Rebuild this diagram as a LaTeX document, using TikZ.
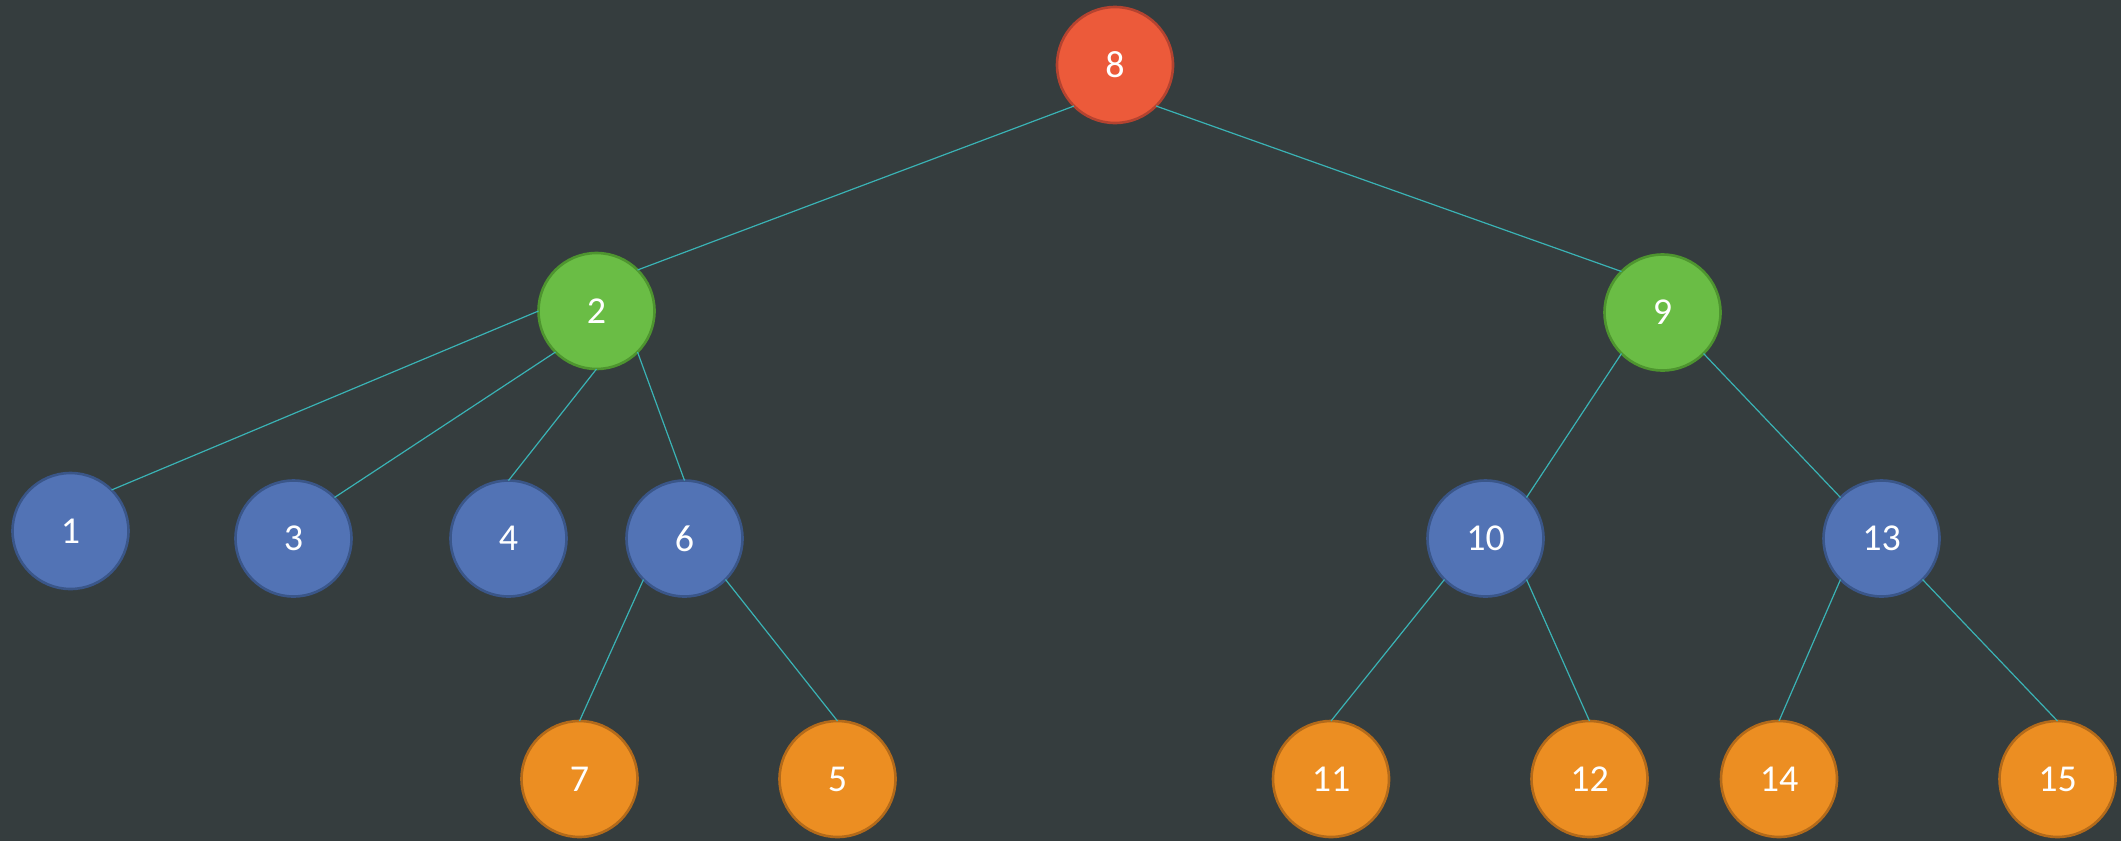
\documentclass[tikz,border=0pt]{standalone}
\usepackage{fontspec}
\setmainfont{Carlito}
\definecolor{bg}{HTML}{353D3E}
\definecolor{redf}{HTML}{EC5A3A}
\definecolor{redd}{HTML}{B44330}
\definecolor{grnf}{HTML}{6ABD45}
\definecolor{grnd}{HTML}{4E952F}
\definecolor{bluf}{HTML}{5273B5}
\definecolor{blud}{HTML}{3A5689}
\definecolor{orgf}{HTML}{EC8E22}
\definecolor{orgd}{HTML}{B36A1A}
\definecolor{edgec}{HTML}{3AB3B5}
\tikzset{
  vtx/.style={circle, minimum size=58pt, inner sep=0pt, outer sep=0pt, line width=1.3pt, text=white, font=\fontsize{19}{22}\selectfont},
  rootv/.style={vtx, fill=redf, draw=redd},
  grnv/.style={vtx, fill=grnf, draw=grnd},
  bluv/.style={vtx, fill=bluf, draw=blud},
  orgv/.style={vtx, fill=orgf, draw=orgd},
  lnk/.style={draw=edgec, line width=0.6pt}
}
\begin{document}
\begin{tikzpicture}[x=0.5pt,y=-0.5pt]
\fill[bg] (0,0) rectangle (2121,841);
\useasboundingbox (0,0) rectangle (2121,841);
\node[rootv] (n8) at (1115,65) {8};
\node[grnv] (n2) at (596.5,311) {2};
\node[grnv] (n9) at (1662.5,312.5) {9};
\node[bluv] (n1) at (70.5,531) {1};
\node[bluv] (n3) at (293.5,538.5) {3};
\node[bluv] (n4) at (508.5,538.5) {4};
\node[bluv] (n6) at (684.5,538.5) {6};
\node[bluv] (n10) at (1485.5,538.5) {10};
\node[bluv] (n13) at (1881.5,538.5) {13};
\node[orgv] (n7) at (579.5,779) {7};
\node[orgv] (n5) at (837.5,779) {5};
\node[orgv] (n11) at (1331,779) {11};
\node[orgv] (n12) at (1589.5,779) {12};
\node[orgv] (n14) at (1779,779) {14};
\node[orgv] (n15) at (2057.5,779) {15};
\draw[lnk] (n8.south west) -- (n2.north east);
\draw[lnk] (n8.south east) -- (n9.north west);
\draw[lnk] (n2.west) -- (n1.north east);
\draw[lnk] (n2.south west) -- (n3.north east);
\draw[lnk] (n2.south) -- (n4.north);
\draw[lnk] (n2.south east) -- (n6.north);
\draw[lnk] (n6.south west) -- (n7.north);
\draw[lnk] (n6.south east) -- (n5.north);
\draw[lnk] (n9.south west) -- (n10.north east);
\draw[lnk] (n9.south east) -- (n13.north west);
\draw[lnk] (n10.south west) -- (n11.north);
\draw[lnk] (n10.south east) -- (n12.north);
\draw[lnk] (n13.south west) -- (n14.north);
\draw[lnk] (n13.south east) -- (n15.north);
\end{tikzpicture}
\end{document}
